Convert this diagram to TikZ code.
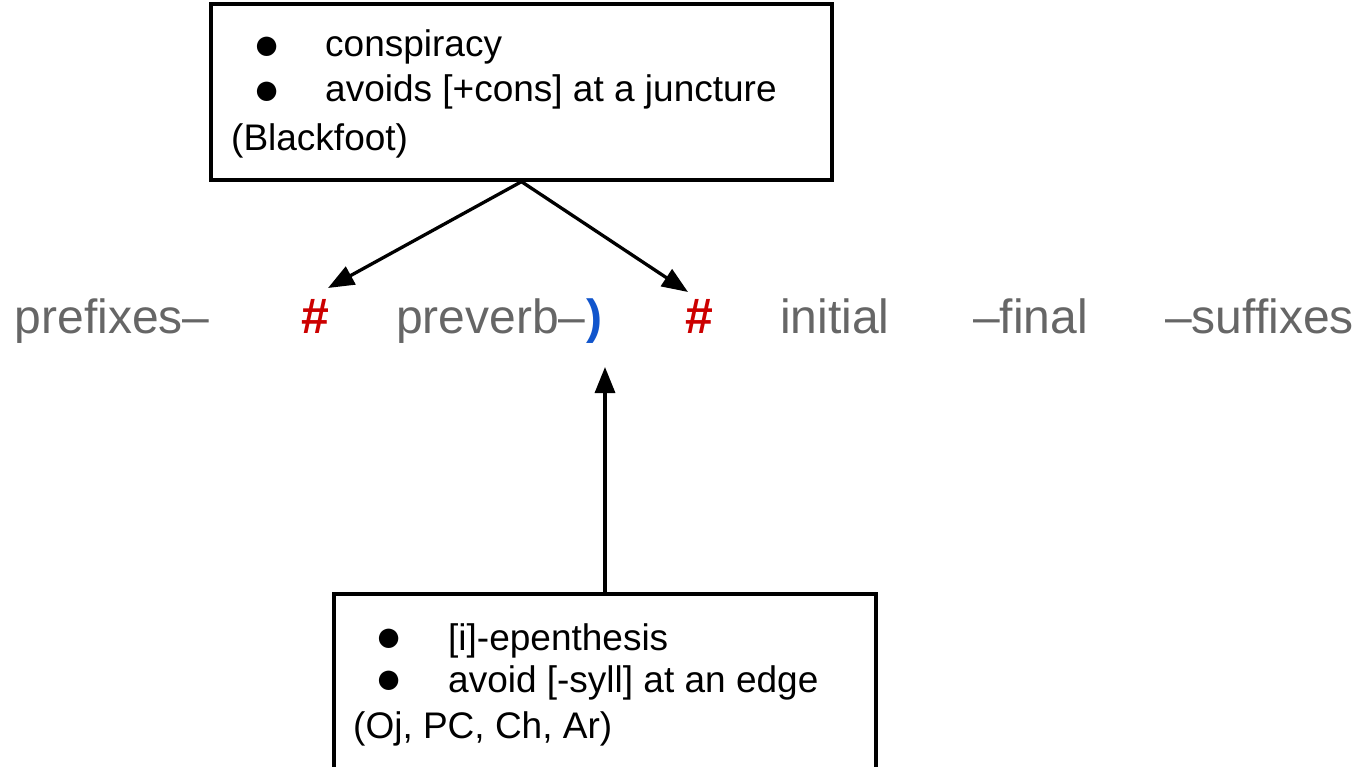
\documentclass[tikz,border=0pt]{standalone}
\usepackage{fontspec}
\setmainfont{Liberation Sans}
\usetikzlibrary{arrows.meta}
\definecolor{wordgray}{HTML}{666666}
\definecolor{hashred}{HTML}{CC0000}
\definecolor{parenblue}{HTML}{1155CC}
\begin{document}
\begin{tikzpicture}[x=1pt,y=-1pt,
  box/.style={draw=black, line width=3.3pt, inner sep=0pt},
  boxtext/.style={anchor=base west, inner sep=0pt, font=\fontsize{37}{44}\selectfont},
  bul/.style={anchor=center, inner sep=0pt, font=\fontsize{45}{50}\selectfont},
  word/.style={anchor=base west, inner sep=0pt, text=wordgray, font=\fontsize{48}{58}\selectfont},
  hash/.style={anchor=base west, inner sep=0pt, text=hashred, font=\fontsize{50}{58}\selectfont\bfseries},
  paren/.style={anchor=base west, inner sep=0pt, text=parenblue, font=\fontsize{48}{58}\selectfont\bfseries},
  link/.style={line width=3.3pt, -{Triangle[length=26pt,width=20pt]}}]
\useasboundingbox (0,0) rectangle (1357,767);
\clip (0,0) rectangle (1357,767);

% upper box: the Blackfoot conspiracy
\node[box, minimum width=621pt, minimum height=176pt] (topbox) at (521.5,92) {};
\node[bul] (tb1) at (267,48) {●};
\node[boxtext] (tt1) at (325,57) {conspiracy};
\node[bul] (tb2) at (267,93) {●};
\node[boxtext] (tt2) at (325,102) {avoids [+cons] at a juncture};
\node[boxtext] (tt3) at (231,151) {(Blackfoot)};

% the verb template
\node[word] (pre) at (14.5,333) {prefixes–};
\node[hash] (hashL) at (301,333) {\#};
\node[word] (pv) at (396,333) {preverb–};
\node[paren] (pvedge) at (pv.base east) {)};
\node[hash] (hashR) at (685,333) {\#};
\node[word] (ini) at (780,333) {initial};
\node[word] (fin) at (973,333) {–final};
\node[word] (suf) at (1165,333) {–suffixes};

% lower box: epenthesis
\node[box, minimum width=542pt, minimum height=220pt] (botbox) at (605,704) {};
\node[bul] (bb1) at (389.5,640) {●};
\node[boxtext] (bt1) at (448,650) {[i]-epenthesis};
\node[bul] (bb2) at (389.5,682) {●};
\node[boxtext] (bt2) at (448,692) {avoid [-syll] at an edge};
\node[boxtext] (bt3) at (353,738) {(Oj, PC, Ch, Ar)};

% arrow ends
\coordinate (tipL) at (328,288);
\coordinate (tipR) at (688,292);
\coordinate (tipB) at (605,367);

\draw[link] (topbox.south) -- (tipL);
\draw[link] (topbox.south) -- (tipR);
\draw[link] (botbox.north) -- (tipB);
\end{tikzpicture}
\end{document}
